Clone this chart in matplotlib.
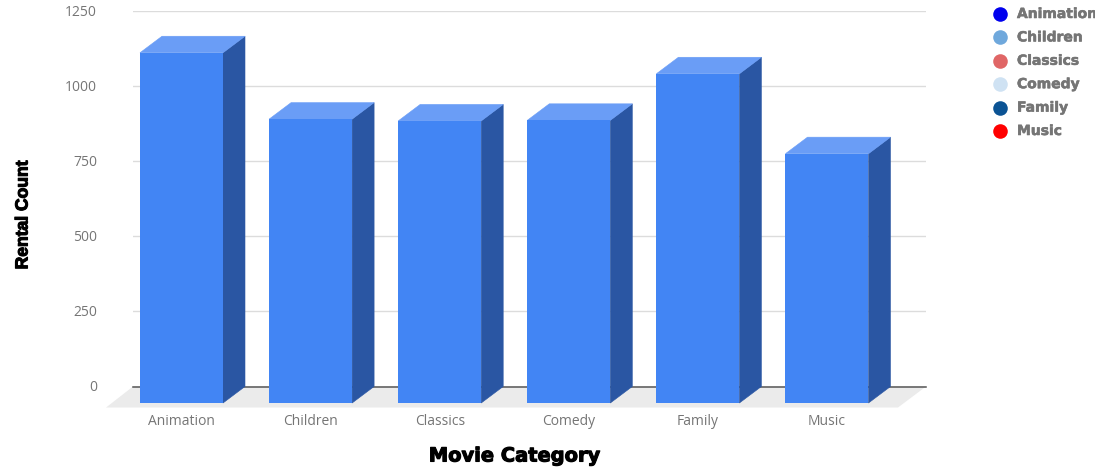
import matplotlib
matplotlib.use("Agg")
import matplotlib.pyplot as plt
import matplotlib.patheffects as pe
from matplotlib.patches import Polygon
from matplotlib.transforms import ScaledTranslation

categories = ["Animation", "Children", "Classics", "Comedy", "Family", "Music"]
rentals = [1166, 945, 939, 941, 1096, 830]
y_ticks = [0, 250, 500, 750, 1000, 1250]
legend_colors = ["#0000ee", "#6fa8dc", "#e06666", "#cfe2f3", "#0b5394", "#ff0000"]

W, H = 1095, 468
BLUE = "#4285f4"
TOP = "#6a9df6"
SIDE = "#2a56a3"
GREY = "#757575"

fig = plt.figure(figsize=(W / 100, H / 100), dpi=100)
ax = fig.add_axes([133 / W, 1 - 386.5 / H, (926 - 133) / W, (386.5 - 11) / H])

# one category is about 129 px wide, first bar is centred at x=181.5
step = 129.1
ax.set_xlim((133 - 181.5) / step, (926 - 181.5) / step)
ax.set_ylim(0, 1250)

bar_w = 83 / step
dx = 22 / step
dy = 55

x0, x1 = ax.get_xlim()
ax.add_patch(Polygon([(x0, 0), (x1, 0), (x1 - 28 / step, -70), (x0 - 27 / step, -70)],
                     closed=True, fc="#ebebeb", ec="none", clip_on=False, zorder=1))

for t in y_ticks[1:]:
    ax.axhline(t, color="#dcdcdc", lw=1, zorder=1)
ax.axhline(0, color="#555555", lw=1.1, zorder=2, clip_on=False)

for i, v in enumerate(rentals):
    l = i - bar_w / 2
    r = i + bar_w / 2
    ax.add_patch(Polygon([(r, -dy), (r + dx, 0), (r + dx, v), (r, v - dy)],
                         closed=True, fc=SIDE, ec=SIDE, lw=0.4, clip_on=False, zorder=3))
    ax.add_patch(Polygon([(l, v - dy), (l + dx, v), (r + dx, v), (r, v - dy)],
                         closed=True, fc=TOP, ec=TOP, lw=0.4, clip_on=False, zorder=3))
    ax.bar(i, v, bar_w, bottom=-dy, color=BLUE, zorder=4, clip_on=False)

for s in ax.spines.values():
    s.set_visible(False)
ax.tick_params(length=0)
ax.set_yticks(y_ticks)
ax.set_yticklabels([str(t) for t in y_ticks], family="Open Sans", fontsize=10, color=GREY)
ax.tick_params(axis="y", pad=26)
ax.set_xticks(range(len(categories)))
ax.set_xticklabels(categories, family="Open Sans", fontsize=10, color=GREY)
ax.tick_params(axis="x", pad=20)

# y labels sit a pixel higher in the original
up = ScaledTranslation(0, 1 / 100, fig.dpi_scale_trans)
for lab in ax.get_yticklabels():
    lab.set_transform(lab.get_transform() + up)

heavy = [pe.withStroke(linewidth=0.8, foreground="black")]
fig.text(515 / W, 1 - 456 / H, "Movie Category", ha="center", va="center",
         family="DejaVu Sans", weight="bold", fontsize=14, color="black", path_effects=heavy)
fig.text(23 / W, 1 - 215 / H, "Rental Count", ha="center", va="center", rotation=90,
         family="Liberation Sans", weight="bold", fontsize=12.6, color="black", path_effects=heavy)

legend_ax = fig.add_axes([0, 0, 1, 1])
legend_ax.set_xlim(0, W)
legend_ax.set_ylim(H, 0)
legend_ax.axis("off")
for k, name in enumerate(categories):
    y = 14 + k * 23.4
    legend_ax.scatter([1000], [y], s=110, color=legend_colors[k], linewidths=0)
    legend_ax.text(1017, y, name, va="center", ha="left", family="DejaVu Sans",
                   weight="bold", fontsize=10, color=GREY, clip_on=True,
                   path_effects=[pe.withStroke(linewidth=0.4, foreground=GREY)])

fig.savefig("out.png", dpi=100)
